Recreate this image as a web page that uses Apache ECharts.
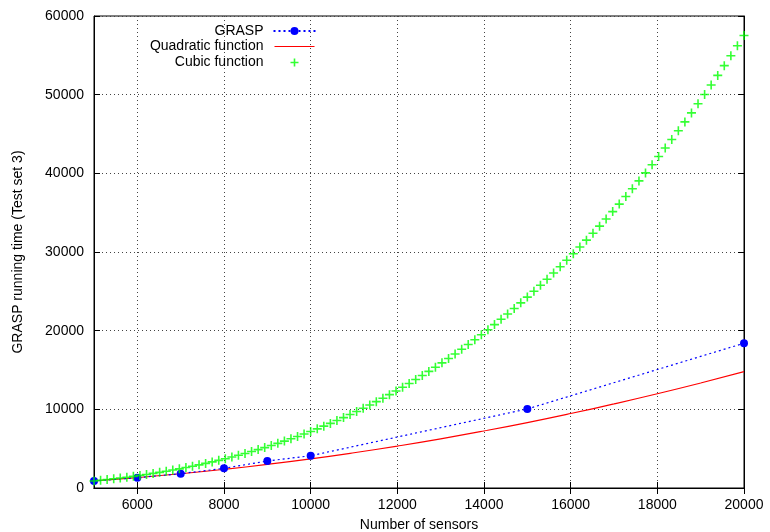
<!DOCTYPE html>
<html>
<head>
<meta charset="utf-8">
<script src="https://cdn.jsdelivr.net/npm/echarts@6/dist/echarts.min.js"></script>
<style>
  html, body { margin: 0; padding: 0; background: #fff; }
  #main { width: 770px; height: 532px; }
</style>
</head>
<body>
<div id="main"></div>
<script>
// GRASP measurements
var graspX = [5000, 6000, 7000, 8000, 9000, 10000, 15000, 20000];
var graspY = [900, 1310, 1820, 2500, 3430, 4100, 10050, 18400];

// quadratic fit
var quadX = [5000, 6000, 7000, 8000, 9000, 10000, 11000, 12000, 13000, 14000,
             15000, 16000, 17000, 18000, 19000, 20000];
var quadY = [900, 1330, 1810, 2370, 3000, 3700, 4480, 5330, 6250, 7250,
             8320, 9470, 10690, 11980, 13350, 14790];

// cubic fit, one value per green marker
var cubicX = [5000, 5152, 5303, 5455, 5606, 5758, 5909, 6061, 6212, 6364,
              6515, 6667, 6818, 6970, 7121, 7273, 7424, 7576, 7727, 7879,
              8030, 8182, 8333, 8485, 8636, 8788, 8939, 9091, 9242, 9394,
              9545, 9697, 9848, 10000, 10152, 10303, 10455, 10606, 10758, 10909,
              11061, 11212, 11364, 11515, 11667, 11818, 11970, 12121, 12273, 12424,
              12576, 12727, 12879, 13030, 13182, 13333, 13485, 13636, 13788, 13939,
              14091, 14242, 14394, 14545, 14697, 14848, 15000, 15152, 15303, 15455,
              15606, 15758, 15909, 16061, 16212, 16364, 16515, 16667, 16818, 16970,
              17121, 17273, 17424, 17576, 17727, 17879, 18030, 18182, 18333, 18485,
              18636, 18788, 18939, 19091, 19242, 19394, 19545, 19697, 19848, 20000];
var cubicY = [899, 983, 1072, 1167, 1267, 1372, 1484, 1601, 1724, 1853,
              1988, 2130, 2279, 2434, 2597, 2766, 2942, 3126, 3318, 3516,
              3723, 3938, 4161, 4392, 4631, 4880, 5136, 5402, 5676, 5960,
              6253, 6556, 6868, 7190, 7522, 7864, 8215, 8578, 8951, 9335,
              9729, 10134, 10551, 10979, 11418, 11868, 12331, 12805, 13291, 13789,
              14300, 14823, 15358, 15907, 16468, 17043, 17631, 18232, 18846, 19474,
              20116, 20772, 21442, 22127, 22825, 23539, 24266, 25009, 25767, 26539,
              27329, 28132, 28951, 29786, 30636, 31504, 32387, 33287, 34203, 35136,
              36086, 37052, 38036, 39036, 40054, 41091, 42144, 43216, 44305, 45413,
              46539, 47683, 48846, 50028, 51228, 52448, 53687, 54944, 56223, 57520];

var xTicks = [6000, 8000, 10000, 12000, 14000, 16000, 18000, 20000];
var yTicks = [0, 10000, 20000, 30000, 40000, 50000, 60000];

function pairs(xs, ys) {
    return xs.map(function (x, i) { return [x, ys[i]]; });
}

var font = 'Liberation Sans';
var plus = 'path://M0,5L10,5M5,0L5,10';
// legend icons, padded with bare moveTo points so they are not stretched
var plusIcon = 'path://M0,0M40,10M16,5L24,5M20,1L20,9';
var redLineIcon = 'path://M0,0M40,10M0,4.4L40,4.4L40,5.6L0,5.6Z';

var myChart = echarts.init(document.getElementById('main'));

var gridLine = { show: true, lineStyle: { color: '#444', type: [1, 3], width: 1 } };
var plain = function (v) { return String(v); };

option = {
    animation: false,
    textStyle: { fontFamily: font },
    grid: {
        left: 94, right: 26, top: 16, bottom: 44,
        outerBoundsMode: 'none',
        show: true, borderColor: '#000', borderWidth: 1
    },
    legend: {
        orient: 'vertical',
        align: 'right',
        right: 448,
        top: 19,
        itemWidth: 42,
        itemHeight: 10,
        itemGap: 1.5,
        textStyle: { fontSize: 14, color: '#000', fontFamily: font, padding: [0, 5, 0, 0] },
        data: [
            'GRASP',
            { name: 'Quadratic function', icon: redLineIcon, itemStyle: { color: '#ff0000', borderWidth: 0 } },
            { name: 'Cubic function', icon: plusIcon, itemStyle: { color: 'none', borderColor: '#00ff00', borderWidth: 1.6 } }
        ]
    },
    xAxis: [{
        type: 'value',
        min: 5000,
        max: 20000,
        name: 'Number of sensors',
        nameLocation: 'middle',
        nameGap: 30,
        nameTextStyle: { fontSize: 14, color: '#000' },
        axisLine: { lineStyle: { color: '#000' } },
        axisTick: { inside: true, length: 6, customValues: xTicks, lineStyle: { color: '#000' } },
        axisLabel: { customValues: xTicks, formatter: plain, fontSize: 14, color: '#000', margin: 10 },
        splitLine: gridLine
    }, {
        type: 'value',
        position: 'top',
        min: 5000,
        max: 20000,
        axisLine: { lineStyle: { color: '#000' } },
        axisTick: { inside: true, length: 6, customValues: xTicks, lineStyle: { color: '#000' } },
        axisLabel: { show: false },
        splitLine: { show: false }
    }],
    yAxis: [{
        type: 'value',
        min: 0,
        max: 60000,
        name: 'GRASP running time (Test set 3)',
        nameLocation: 'middle',
        nameGap: 69,
        nameTextStyle: { fontSize: 14, color: '#000' },
        axisLine: { show: true, lineStyle: { color: '#000' } },
        axisTick: { show: true, inside: true, length: 6, customValues: yTicks, lineStyle: { color: '#000' } },
        axisLabel: { customValues: yTicks, formatter: plain, fontSize: 14, color: '#000', margin: 10 },
        splitLine: gridLine
    }, {
        type: 'value',
        position: 'right',
        min: 0,
        max: 60000,
        axisLine: { show: true, lineStyle: { color: '#000' } },
        axisTick: { show: true, inside: true, length: 6, customValues: yTicks, lineStyle: { color: '#000' } },
        axisLabel: { show: false },
        splitLine: { show: false }
    }],
    series: [{
        name: 'GRASP',
        type: 'line',
        data: pairs(graspX, graspY),
        symbol: 'circle',
        symbolSize: 8,
        itemStyle: { color: '#0000ff' },
        lineStyle: { color: '#0000ff', width: 1.2, type: [2, 3] },
        z: 4
    }, {
        name: 'Quadratic function',
        type: 'line',
        data: pairs(quadX, quadY),
        smooth: true,
        showSymbol: false,
        itemStyle: { color: '#ff0000' },
        lineStyle: { color: '#ff0000', width: 1.2 },
        z: 3
    }, {
        name: 'Cubic function',
        type: 'scatter',
        data: pairs(cubicX, cubicY),
        symbol: plus,
        symbolSize: 9,
        itemStyle: { color: 'none', borderColor: '#00ff00', borderWidth: 1.6 },
        z: 5
    }]
};

myChart.setOption(option);
</script>
</body>
</html>
